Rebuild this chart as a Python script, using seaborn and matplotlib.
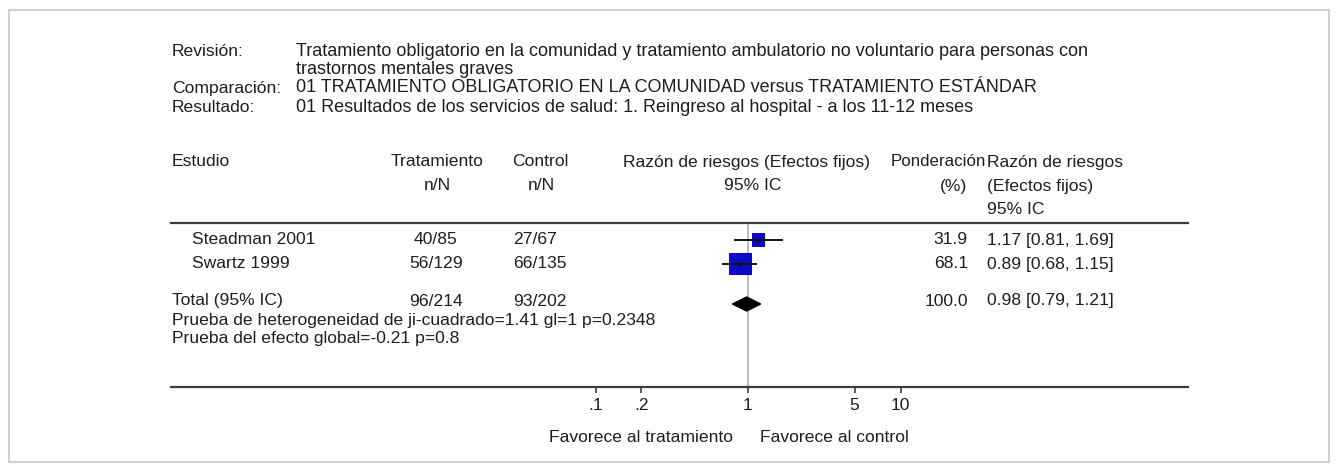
import matplotlib
matplotlib.use("Agg")
import matplotlib.pyplot as plt
import numpy as np
import pandas as pd
import seaborn as sns
from matplotlib.patches import Rectangle

# Data
studies = ["Steadman 2001", "Swartz 1999"]
treat_events = [40, 56]
treat_total = [85, 129]
ctrl_events = [27, 66]
ctrl_total = [67, 135]
risk_ratio = [1.17, 0.89]
ci_low = [0.81, 0.68]
ci_high = [1.69, 1.15]
weights = [31.9, 68.1]

pooled_rr = 0.98
pooled_low = 0.79
pooled_high = 1.21
pooled_weight = 100.0

tick_values = [0.1, 0.2, 1, 5, 10]
tick_labels = [".1", ".2", "1", "5", "10"]

title_labels = ["Revisión:", "", "Comparación:", "Resultado:"]
title_values = [
    "Tratamiento obligatorio en la comunidad y tratamiento ambulatorio no voluntario para personas con",
    "trastornos mentales graves",
    "01 TRATAMIENTO OBLIGATORIO EN LA COMUNIDAD versus TRATAMIENTO ESTÁNDAR",
    "01 Resultados de los servicios de salud: 1. Reingreso al hospital - a los 11-12 meses",
]
heterogeneity = "Prueba de heterogeneidad de ji-cuadrado=1.41 gl=1 p=0.2348"
overall = "Prueba del efecto global=-0.21 p=0.8"

df = pd.DataFrame({
    "study": studies, "rr": risk_ratio, "lo": ci_low, "hi": ci_high, "weight": weights,
})

W, H = 1338, 472
sns.set_theme(style="white")
plt.rcParams["font.family"] = ["Liberation Sans", "DejaVu Sans"]
FS = 12.6
TXT = "#1e1e1e"

fig = plt.figure(figsize=(W / 100, H / 100), dpi=100)


def fx(x):
    return x / W


def fy(y):
    return 1 - y / H


def put(x, y, s, ha="left", size=FS):
    fig.text(fx(x), fy(y), s, ha=ha, va="center", fontsize=size, color=TXT)


# outer frame
fig.patches.append(Rectangle((fx(9), fy(462)), fx(1329) - fx(9), fy(10) - fy(462),
                             transform=fig.transFigure, fill=False,
                             edgecolor="#c8c8c8", linewidth=1.2))

# plot area: from header rule (y=223) to axis rule (y=387), x from 171 to 1188
ax = fig.add_axes([fx(171), fy(387), fx(1188) - fx(171), fy(223) - fy(387)])
ppd = 152.5  # pixels per decade
ax.set_xscale("log")
ax.set_xlim(10 ** ((171 - 748) / ppd), 10 ** ((1188 - 748) / ppd))
ax.set_ylim(387, 223)

row_y = [240, 264]
total_y = 304
df["y"] = row_y

ax.axvline(1, color="#a9aac8", linewidth=1.2, zorder=1)

sns.scatterplot(data=df, x="rr", y="y", size="weight", sizes=(88, 274),
                size_norm=(min(weights), max(weights)), marker="s",
                color="#0a0ac8", edgecolor="none", linewidth=0,
                legend=False, ax=ax, zorder=2)
ax.hlines(df["y"], df["lo"], df["hi"], color="#111111", linewidth=1.4, zorder=3)
ax.scatter(df["rr"], df["y"], s=4, color="#111111", zorder=4)

ax.fill([pooled_low, pooled_rr, pooled_high, pooled_rr],
        [total_y, total_y - 7, total_y, total_y + 7], color="black", zorder=3)

for side in ["left", "right"]:
    ax.spines[side].set_visible(False)
for side in ["top", "bottom"]:
    ax.spines[side].set_color("#3c3c3c")
    ax.spines[side].set_linewidth(1.6)
ax.set_yticks([])
ax.set_xticks(tick_values)
ax.set_xticklabels(tick_labels, fontsize=FS, color=TXT)
ax.minorticks_off()
ax.tick_params(axis="x", direction="out", length=4, width=1.2, color="#3c3c3c", pad=4, bottom=True)
ax.set_xlabel("")
ax.set_ylabel("")
ax.patch.set_alpha(0)

# title block
title_y = [51, 69, 88, 107]
for lab, val, yy in zip(title_labels, title_values, title_y):
    if lab:
        put(172, yy, lab)
    put(296, yy, val, size=13.0)

# header
put(172, 162, "Estudio")
put(437, 162, "Tratamiento", "center")
put(512, 162, "Control")
put(747, 162, "Razón de riesgos (Efectos fijos)", "center")
put(986, 162, "Ponderación", "right", size=12.2)
put(987, 162, "Razón de riesgos")
put(437, 186, "n/N", "center")
put(541, 186, "n/N", "center")
put(753, 186, "95% IC", "center")
put(967, 186, "(%)", "right")
put(987, 186, "(Efectos fijos)")
put(987, 209, "95% IC")

# study rows
for i, yy in enumerate(row_y):
    put(192, yy, studies[i])
    put(436, yy, f"{treat_events[i]}/{treat_total[i]}", "center")
    put(513, yy, f"{ctrl_events[i]}/{ctrl_total[i]}")
    put(968, yy, f"{weights[i]:.1f}", "right")
    put(987, yy, f"{risk_ratio[i]:.2f} [{ci_low[i]:.2f}, {ci_high[i]:.2f}]")

# total row
put(172, 301, "Total (95% IC)")
put(436, 301, f"{sum(treat_events)}/{sum(treat_total)}", "center")
put(513, 301, f"{sum(ctrl_events)}/{sum(ctrl_total)}")
put(968, 301, f"{pooled_weight:.1f}", "right")
put(987, 301, f"{pooled_rr:.2f} [{pooled_low:.2f}, {pooled_high:.2f}]")
put(172, 320, heterogeneity)
put(172, 339, overall)

put(733, 437, "Favorece al tratamiento", "right")
put(760, 437, "Favorece al control")

fig.savefig("out.png", dpi=100, facecolor="white")
